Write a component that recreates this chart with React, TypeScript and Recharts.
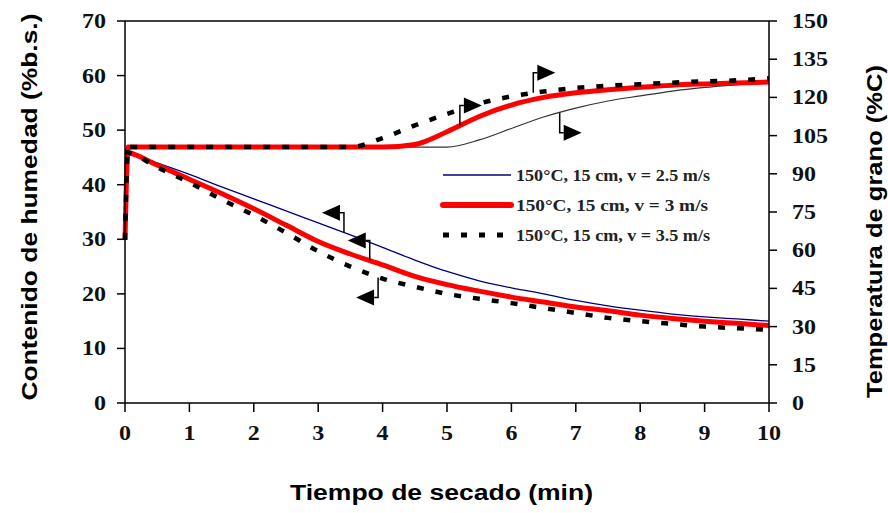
import { Legend, Line, LineChart, ReferenceDot, ReferenceLine, XAxis, YAxis } from "recharts";

// drying time (min)
const times = [0, 0.05, 0.5, 1, 1.5, 2, 2.5, 3, 3.5, 4, 4.5, 5, 5.5, 6, 6.5, 7, 7.5, 8, 8.5, 9, 9.5, 10];

// moisture content (% d.b.)
const moisture25 = [46, 45.9, 44, 41.9, 39.6, 37.4, 35.2, 33, 30.8, 28.5, 26.2, 24.1, 22.4, 21.1, 20, 18.8, 17.8, 17, 16.3, 15.8, 15.4, 15];
const moisture3 = [46, 45.9, 43.6, 41, 38.4, 35.6, 32.6, 29.6, 27.3, 25.3, 23.2, 21.7, 20.5, 19.4, 18.5, 17.6, 16.9, 16.1, 15.5, 15, 14.6, 14.2];
const moisture35 = [46, 45.9, 43.2, 40.4, 37.3, 34.4, 31.2, 27.8, 25, 22.8, 21.3, 20, 19.1, 18.3, 17.4, 16.5, 15.6, 15, 14.5, 14, 13.7, 13.4];

// grain temperature (°C)
const temp25 = [64, 100.5, 100.5, 100.5, 100.5, 100.5, 100.5, 100.5, 100.5, 100.5, 100.5, 100.5, 103.3, 107.8, 112.3, 115.8, 118.6, 120.6, 122.5, 123.9, 125, 126];
const temp3 = [64, 100.5, 100.5, 100.5, 100.5, 100.5, 100.5, 100.5, 100.5, 100.5, 101.5, 106.5, 112.5, 117, 120, 121.8, 123, 124, 124.8, 125.3, 125.7, 126];
const temp35 = [64, 100.5, 100.5, 100.5, 100.5, 100.5, 100.5, 100.5, 100.5, 104, 109, 113.5, 117.6, 120.4, 122.3, 123.7, 124.6, 125.2, 125.8, 126.3, 126.7, 127.5];

const xTicks = [0, 1, 2, 3, 4, 5, 6, 7, 8, 9, 10];
const leftTicks = [0, 10, 20, 30, 40, 50, 60, 70];
const rightTicks = [0, 15, 30, 45, 60, 75, 90, 105, 120, 135, 150];

const legendLabels = [
  "150°C, 15 cm, v = 2.5 m/s",
  "150°C, 15 cm, v = 3 m/s",
  "150°C, 15 cm, v = 3.5 m/s"
];

// axis-pointer arrows: where they sit on a curve, which axis, up/down, left/right
const arrows = [
  { t: 5.2, v: 109, axis: "right", up: true, dir: 1 },
  { t: 6.34, v: 121.8, axis: "right", up: true, dir: 1 },
  { t: 6.75, v: 114, axis: "right", up: false, dir: 1 },
  { t: 3.4, v: 31.2, axis: "left", up: true, dir: -1 },
  { t: 3.8, v: 26.1, axis: "left", up: true, dir: -1 },
  { t: 3.93, v: 23, axis: "left", up: false, dir: -1 }
];

const data = times.map((t, i) => ({
  t,
  m25: moisture25[i],
  m3: moisture3[i],
  m35: moisture35[i],
  T25: temp25[i],
  T3: temp3[i],
  T35: temp35[i]
}));

const tickFont = { fontFamily: "'Liberation Serif', 'Times New Roman', serif", fontWeight: 700, fontSize: 20, fill: "#111" };
const titleFont = { fontFamily: "'Liberation Sans', Arial, sans-serif", fontWeight: 700, fontSize: 22, fill: "#000" };

function Tick(props: any) {
  const { x, y, payload, anchor, dy } = props;
  return (
    <g transform={`translate(${x},${y})`}>
      <text transform="scale(1.2,1)" textAnchor={anchor} dy={dy} style={tickFont}>
        {payload.value}
      </text>
    </g>
  );
}

function Title({ tx, ty, turn, text, length }: any) {
  return (
    <text
      x={tx}
      y={ty}
      textAnchor="middle"
      transform={turn ? `rotate(${turn},${tx},${ty})` : undefined}
      textLength={length}
      lengthAdjust="spacingAndGlyphs"
      style={titleFont}
    >
      {text}
    </text>
  );
}

function Arrow({ cx, cy, up, dir }: any) {
  const y2 = cy + (up ? -20 : 20);
  const bx = cx + dir * 4;
  const tip = cx + dir * 22;
  return (
    <g>
      <path d={`M${cx},${cy}V${y2}H${bx}`} fill="none" stroke="#000" strokeWidth={1.5} />
      <path d={`M${bx},${y2 - 8}L${tip},${y2}L${bx},${y2 + 8}Z`} fill="#000" />
    </g>
  );
}

function LegendBox() {
  const rows = [
    { stroke: "#000080", width: 1.5, dash: undefined, cap: "butt", len: 194 },
    { stroke: "#ff0000", width: 6, dash: undefined, cap: "round", len: 192 },
    { stroke: "#000", width: 5, dash: "6 12", cap: "butt", len: 194 }
  ];
  return (
    <svg width={300} height={100}>
      {rows.map((r, i) => {
        const y = 15 + i * 30;
        return (
          <g key={i}>
            <line x1={3} x2={71} y1={y} y2={y} stroke={r.stroke} strokeWidth={r.width} strokeDasharray={r.dash} strokeLinecap={r.cap as any} />
            <text x={76} y={y + 6} textLength={r.len} lengthAdjust="spacingAndGlyphs"
              style={{ fontFamily: "'Liberation Serif', 'Times New Roman', serif", fontWeight: 700, fontSize: 17, fill: "#222" }}>
              {legendLabels[i]}
            </text>
          </g>
        );
      })}
    </svg>
  );
}

export default function App() {
  return (
    <div style={{ position: "absolute", left: 0, top: 0, width: 888, height: 513, background: "#fff" }}>
      <LineChart width={888} height={513} data={data} margin={{ top: 21, right: 0, bottom: 0, left: 0 }}>
        <XAxis
          dataKey="t"
          type="number"
          domain={[0, 10]}
          ticks={xTicks}
          height={110}
          tickSize={9}
          tickMargin={4}
          stroke="#000"
          strokeWidth={1.5}
          tick={<Tick anchor="middle" dy={24} />}
          label={<Title tx={441.5} ty={500} text="Tiempo de secado (min)" length={303} />}
        />
        <YAxis
          yAxisId="left"
          domain={[0, 70]}
          ticks={leftTicks}
          width={125}
          tickSize={8}
          tickMargin={11}
          stroke="#000"
          strokeWidth={1.5}
          tick={<Tick anchor="end" dy={7} />}
          label={<Title tx={37} ty={207} turn={-90} text="Contenido de humedad (%b.s.)" length={387} />}
        />
        <YAxis
          yAxisId="right"
          orientation="right"
          domain={[0, 150]}
          ticks={rightTicks}
          width={119}
          tickSize={8}
          tickMargin={15}
          stroke="#000"
          strokeWidth={1.5}
          tick={<Tick anchor="start" dy={7} />}
          label={<Title tx={882} ty={231.5} turn={-90} text="Temperatura de grano (%C)" length={333} />}
        />
        <ReferenceLine yAxisId="left" y={70} stroke="#000" strokeWidth={1.5} />

        <Line yAxisId="right" dataKey="T25" type="monotone" stroke="#333" strokeWidth={1.2} dot={false} isAnimationActive={false} legendType="none" />
        <Line yAxisId="left" dataKey="m25" type="monotone" stroke="#000080" strokeWidth={1.3} dot={false} isAnimationActive={false} />
        <Line yAxisId="right" dataKey="T3" type="monotone" stroke="#ff0000" strokeWidth={5} dot={false} isAnimationActive={false} legendType="none" />
        <Line yAxisId="left" dataKey="m3" type="monotone" stroke="#ff0000" strokeWidth={5} dot={false} isAnimationActive={false} />
        <Line yAxisId="right" dataKey="T35" type="monotone" stroke="#000" strokeWidth={4.5} strokeDasharray="7 12" dot={false} isAnimationActive={false} legendType="none" />
        <Line yAxisId="left" dataKey="m35" type="monotone" stroke="#000" strokeWidth={4.5} strokeDasharray="7 12" dot={false} isAnimationActive={false} />

        {arrows.map((a, i) => (
          <ReferenceDot
            key={i}
            yAxisId={a.axis}
            x={a.t}
            y={a.v}
            r={0}
            shape={(p: any) => <Arrow cx={p.cx} cy={p.cy} up={a.up} dir={a.dir} />}
          />
        ))}

        <Legend
          layout="vertical"
          align="center"
          verticalAlign="middle"
          content={() => <LegendBox />}
          wrapperStyle={{ position: "absolute", left: 440, top: 160, width: 300, height: 100 }}
        />
      </LineChart>
    </div>
  );
}
